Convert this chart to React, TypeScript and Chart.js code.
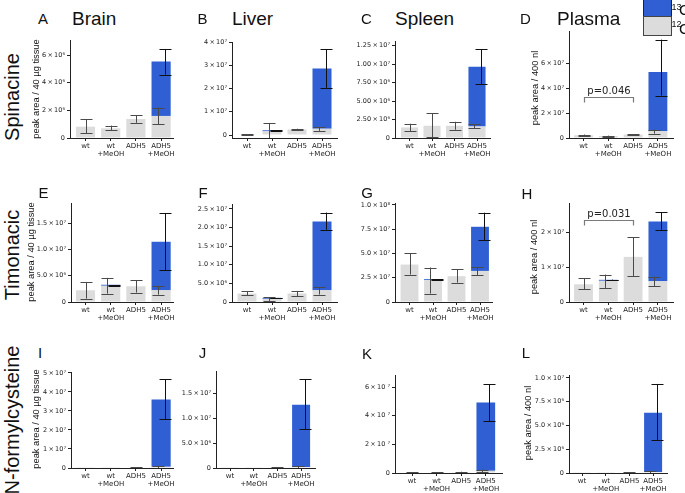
import React, { useEffect, useRef } from "react";
import { Chart, registerables } from "chart.js";
Chart.register(...registerables);

// ---------- shared categories / text ----------
const categories = [["wt"], ["wt", "+MeOH"], ["ADH5"], ["ADH5", "+MeOH"]];
const colTitles = ["Brain", "Liver", "Spleen", "Plasma"];
const rowTitles = ["Spinacine", "Timonacic", "N-formylcysteine"];
const panelLetters = ["A", "B", "C", "D", "E", "F", "G", "H", "I", "J", "K", "L"];
const yTitleTissue = "peak area / 40 µg tissue";
const yTitlePlasma = "peak area / 400 nl";
const legendIsotopes = ["13", "12"];

type Rng = [number, number] | null;

// ---------- Spinacine ----------
const A_12C = [0.82e6, 0.7e6, 1.38e6, 1.6e6];
const A_12C_err: Rng[] = [[0.35e6, 1.35e6], [0.55e6, 0.9e6], [1.1e6, 1.65e6], [1.0e6, 2.2e6]];
const A_13C = [0, 0, 0, 3.95e6];
const A_13C_err: Rng[] = [null, null, null, [4.6e6, 6.45e6]];
const A_ticks = [0, 2e6, 4e6, 6e6];
const A_tickLabels = ["0", "2 × 10⁶", "4 × 10⁶", "6 × 10⁶"];

const B_12C = [0.3e6, 1.6e6, 2.4e6, 2.7e6];
const B_12C_err: Rng[] = [[0.2e6, 0.4e6], [-1.9e6, 5.2e6], [2.1e6, 2.7e6], [1.8e6, 3.4e6]];
const B_13C = [0, 0.3e6, 0, 2.59e7];
const B_13C_err: Rng[] = [null, [1.8e6, 2.0e6], null, [2.03e7, 3.68e7]];
const B_ticks = [0, 1e7, 2e7, 3e7, 4e7];
const B_tickLabels = ["0", "1 × 10⁷", "2 × 10⁷", "3 × 10⁷", "4 × 10⁷"];

const C_12C = [1.43e6, 1.66e6, 1.66e6, 1.57e6];
const C_12C_err: Rng[] = [[0.9e6, 1.93e6], [0.13e6, 3.38e6], [1.12e6, 2.2e6], [1.35e6, 1.9e6]];
const C_13C = [0, 0, 0, 8.1e6];
const C_13C_err: Rng[] = [null, null, null, [7.3e6, 1.2e7]];
const C_ticks = [0, 2.5e6, 5e6, 7.5e6, 1e7, 1.25e7];
const C_tickLabels = ["0", "2.50 × 10⁶", "5.00 × 10⁶", "7.50 × 10⁶", "1.00 × 10⁷", "1.25 × 10⁷"];

const D_12C = [2.2e6, 1.6e6, 2.8e6, 5.4e6];
const D_12C_err: Rng[] = [[1.6e6, 2.8e6], [1.1e6, 1.9e6], [2.5e6, 3.1e6], [3.5e6, 6.7e6]];
const D_13C = [0, 0, 0, 4.74e7];
const D_13C_err: Rng[] = [null, null, null, [3.4e7, 7.87e7]];
const D_ticks = [0, 2e7, 4e7, 6e7];
const D_tickLabels = ["0", "2 × 10⁷", "4 × 10⁷", "6 × 10⁷"];
const D_pText = "p=0.046";
const D_pBracket = [0, 2, 3.26e7];

// ---------- Timonacic ----------
const E_12C = [2.24e6, 3.1e6, 3.0e6, 2.24e6];
const E_12C_err: Rng[] = [[0.65e6, 3.83e6], [1.6e6, 4.6e6], [1.8e6, 4.2e6], [1.4e6, 3.07e6]];
const E_13C = [0, 0.05e6, 0, 9.26e6];
const E_13C_err: Rng[] = [null, [3.1e6, 3.17e6], null, [6.07e6, 1.7e7]];
const E_ticks = [0, 5e6, 1e7, 1.5e7];
const E_tickLabels = ["0", "5.0 × 10⁶", "1.0 × 10⁷", "1.5 × 10⁷"];

const F_12C = [2.27e6, 0.85e6, 2.3e6, 3.16e6];
const F_12C_err: Rng[] = [[1.8e6, 2.9e6], [0.3e6, 1.3e6], [1.6e6, 2.97e6], [2.0e6, 4.05e6]];
const F_13C = [0, 0.2e6, 0, 1.844e7];
const F_13C_err: Rng[] = [null, [0.95e6, 1.05e6], null, [1.94e7, 2.4e7]];
const F_ticks = [0, 5e6, 1e7, 1.5e7, 2e7, 2.5e7];
const F_tickLabels = ["0", "5.0 × 10⁶", "1.0 × 10⁷", "1.5 × 10⁷", "2.0 × 10⁷", "2.5 × 10⁷"];

const G_12C = [3.86e7, 2.25e7, 2.66e7, 3.2e7];
const G_12C_err: Rng[] = [[2.83e7, 5.0e7], [0.87e7, 3.55e7], [2.0e7, 3.38e7], [2.76e7, 3.62e7]];
const G_13C = [0, 0.08e7, 0, 4.55e7];
const G_13C_err: Rng[] = [null, [2.29e7, 2.36e7], null, [6.37e7, 9.2e7]];
const G_ticks = [0, 2.5e7, 5e7, 7.5e7, 1e8];
const G_tickLabels = ["0", "2.5 × 10⁷", "5.0 × 10⁷", "7.5 × 10⁷", "1.0 × 10⁸"];

const H_12C = [5.1e6, 6.1e6, 1.3e7, 6.0e6];
const H_12C_err: Rng[] = [[3.7e6, 6.8e6], [4.06e6, 7.9e6], [7.5e6, 1.86e7], [4.55e6, 7.25e6]];
const H_13C = [0, 0.25e6, 0, 1.72e7];
const H_13C_err: Rng[] = [null, [6.25e6, 6.45e6], null, [2.08e7, 2.58e7]];
const H_ticks = [0, 1e7, 2e7];
const H_tickLabels = ["0", "1 × 10⁷", "2 × 10⁷"];
const H_pText = "p=0.031";
const H_pBracket = [0, 2, 2.37e7];

// ---------- N-formylcysteine ----------
const I_12C = [0.1e6, 0.1e6, 0.3e6, 0.6e6];
const I_12C_err: Rng[] = [null, null, [0.1e6, 0.5e6], [0, 1.2e6]];
const I_13C = [0, 0, 0, 3.54e7];
const I_13C_err: Rng[] = [null, null, null, [2.58e7, 4.68e7]];
const I_ticks = [0, 1e7, 2e7, 3e7, 4e7, 5e7];
const I_tickLabels = ["0", "1 × 10⁷", "2 × 10⁷", "3 × 10⁷", "4 × 10⁷", "5 × 10⁷"];

const J_12C = [0.05e6, 0.05e6, 0.15e6, 0.2e6];
const J_12C_err: Rng[] = [null, null, [0.1e6, 0.2e6], [0, 0.4e6]];
const J_13C = [0, 0, 0, 1.25e7];
const J_13C_err: Rng[] = [null, null, null, [0.78e7, 1.78e7]];
const J_ticks = [0, 5e6, 1e7, 1.5e7];
const J_tickLabels = ["0", "5.0 × 10⁶", "1.0 × 10⁷", "1.5 × 10⁷"];

const K_12C = [0.4e6, 0.4e6, 0.6e6, 1.5e6];
const K_12C_err: Rng[] = [[0.2e6, 0.6e6], [0.2e6, 0.6e6], [0.3e6, 0.9e6], [0.5e6, 2.4e6]];
const K_13C = [0, 0, 0, 4.77e7];
const K_13C_err: Rng[] = [null, null, null, [3.64e7, 6.22e7]];
const K_ticks = [0, 2e7, 4e7, 6e7];
const K_tickLabels = ["0", "2 × 10 ⁷", "4 × 10 ⁷", "6 × 10 ⁷"];

const L_12C = [0.02e6, 0.02e6, 0.05e6, 0.1e6];
const L_12C_err: Rng[] = [null, null, [0.03e6, 0.07e6], [0, 0.16e6]];
const L_13C = [0, 0, 0, 6.23e6];
const L_13C_err: Rng[] = [null, null, null, [3.45e6, 9.36e6]];
const L_ticks = [0, 2.5e6, 5e6, 7.5e6, 1e7];
const L_tickLabels = ["0", "2.5 × 10⁶", "5.0 × 10⁶", "7.5 × 10⁶", "1.0 × 10⁷"];

// ---------- styling ----------
const GRAY = "#dcdcdc";
const BLUE = "#2f5fd2";
const ERR12 = "#4a4a4a";
const ERR13 = "#111111";
const AXIS = "#222222";
const TICK_FONT = '"DejaVu Sans", sans-serif';
const TEXT_FONT = '"Liberation Sans", Arial, sans-serif';
const YW = 46, PT = 10, PR = 8, XH = 24;

interface PanelDef {
  c12: number[]; e12: Rng[]; c13: number[]; e13: Rng[];
  ticks: number[]; tickLabels: string[];
  l: number; r: number; t: number; b: number; c0: number; sp: number;
  ymin: number; ymax: number;
  pText?: string; pBracket?: number[];
}

const panels: PanelDef[] = [
  { c12: A_12C, e12: A_12C_err, c13: A_13C, e13: A_13C_err, ticks: A_ticks, tickLabels: A_tickLabels, l: 70, r: 173, t: 40, b: 138, c0: 85.5, sp: 25.2, ymin: 0, ymax: 7.1e6 },
  { c12: B_12C, e12: B_12C_err, c13: B_13C, e13: B_13C_err, ticks: B_ticks, tickLabels: B_tickLabels, l: 232, r: 337, t: 42, b: 138, c0: 247, sp: 25, ymin: -1.29e6, ymax: 4.0e7 },
  { c12: C_12C, e12: C_12C_err, c13: C_13C, e13: C_13C_err, ticks: C_ticks, tickLabels: C_tickLabels, l: 395, r: 490, t: 41, b: 138, c0: 409.5, sp: 22.5, ymin: 0, ymax: 1.315e7 },
  { c12: D_12C, e12: D_12C_err, c13: D_13C, e13: D_13C_err, ticks: D_ticks, tickLabels: D_tickLabels, l: 569, r: 673, t: 31, b: 138, c0: 583.5, sp: 24.8, ymin: 0, ymax: 8.56e7, pText: D_pText, pBracket: D_pBracket },
  { c12: E_12C, e12: E_12C_err, c13: E_13C, e13: E_13C_err, ticks: E_ticks, tickLabels: E_tickLabels, l: 71, r: 173, t: 203, b: 302, c0: 85.5, sp: 25.2, ymin: 0, ymax: 1.89e7 },
  { c12: F_12C, e12: F_12C_err, c13: F_13C, e13: F_13C_err, ticks: F_ticks, tickLabels: F_tickLabels, l: 232, r: 337, t: 204, b: 302, c0: 247, sp: 25, ymin: 0, ymax: 2.63e7 },
  { c12: G_12C, e12: G_12C_err, c13: G_13C, e13: G_13C_err, ticks: G_ticks, tickLabels: G_tickLabels, l: 395, r: 492, t: 203, b: 302, c0: 409.5, sp: 23.5, ymin: 0, ymax: 1.02e8 },
  { c12: H_12C, e12: H_12C_err, c13: H_13C, e13: H_13C_err, ticks: H_ticks, tickLabels: H_tickLabels, l: 569, r: 673, t: 203, b: 302, c0: 583.5, sp: 24.8, ymin: 0, ymax: 2.85e7, pText: H_pText, pBracket: H_pBracket },
  { c12: I_12C, e12: I_12C_err, c13: I_13C, e13: I_13C_err, ticks: I_ticks, tickLabels: I_tickLabels, l: 71, r: 173, t: 372, b: 468, c0: 85.5, sp: 25.2, ymin: 0, ymax: 5.05e7 },
  { c12: J_12C, e12: J_12C_err, c13: J_13C, e13: J_13C_err, ticks: J_ticks, tickLabels: J_tickLabels, l: 216, r: 315, t: 371, b: 468, c0: 230, sp: 23.7, ymin: 0, ymax: 1.95e7 },
  { c12: K_12C, e12: K_12C_err, c13: K_13C, e13: K_13C_err, ticks: K_ticks, tickLabels: K_tickLabels, l: 395, r: 502, t: 375, b: 473, c0: 412, sp: 24.6, ymin: 0, ymax: 6.85e7 },
  { c12: L_12C, e12: L_12C_err, c13: L_13C, e13: L_13C_err, ticks: L_ticks, tickLabels: L_tickLabels, l: 569, r: 667, t: 375, b: 473, c0: 582, sp: 23.7, ymin: 0, ymax: 1.03e7 },
];

// tighten the spaces around "×" like mathtext does
const tight = (s: string) => s.replace(/ × /g, "\u2009×\u2009");

function PanelChart({ p }: { p: PanelDef }) {
  const ref = useRef<HTMLCanvasElement | null>(null);
  const W = YW + (p.r - p.l) + PR;
  const H = PT + (p.b - p.t) + XH;
  useEffect(() => {
    const xmin = (p.l - p.c0) / p.sp;
    const xmax = (p.r - p.c0) / p.sp;
    const overlay = {
      id: "errbars",
      afterDatasetsDraw(chart: any) {
        const { ctx, chartArea, scales } = chart;
        const xs = scales.x, ys = scales.y;
        ctx.save();
        ctx.beginPath();
        ctx.rect(chartArea.left, chartArea.top - 10, chartArea.right - chartArea.left, chartArea.bottom - chartArea.top + 10);
        ctx.clip();
        const drawErr = (cx: number, rng: [number, number], color: string) => {
          const y1 = ys.getPixelForValue(rng[0]);
          const y2 = ys.getPixelForValue(rng[1]);
          ctx.strokeStyle = color;
          ctx.lineWidth = 1;
          ctx.beginPath();
          const x = Math.round(cx) + 0.5;
          ctx.moveTo(x, y1); ctx.lineTo(x, y2);
          ctx.moveTo(x - 6, Math.round(y1) + 0.5); ctx.lineTo(x + 6, Math.round(y1) + 0.5);
          ctx.moveTo(x - 6, Math.round(y2) + 0.5); ctx.lineTo(x + 6, Math.round(y2) + 0.5);
          ctx.stroke();
        };
        for (let i = 0; i < categories.length; i++) {
          const cx = xs.getPixelForValue(i);
          const has13 = p.c13[i] > 0;
          const e12 = p.e12[i];
          const e13 = p.e13[i];
          if (e12) drawErr(cx + (has13 ? -3.5 : 0), e12, ERR12);
          if (e13) drawErr(cx + (has13 ? 3.5 : 0), e13, ERR13);
        }
        ctx.restore();
        if (p.pBracket && p.pText) {
          const [a, b, v] = p.pBracket;
          const x1 = Math.round(xs.getPixelForValue(a)) + 0.5;
          const x2 = Math.round(xs.getPixelForValue(b)) + 0.5;
          const y = Math.round(ys.getPixelForValue(v)) + 0.5;
          ctx.save();
          ctx.strokeStyle = "#7a7a7a";
          ctx.lineWidth = 1.2;
          ctx.beginPath();
          ctx.moveTo(x1, y + 5); ctx.lineTo(x1, y); ctx.lineTo(x2, y); ctx.lineTo(x2, y + 5);
          ctx.stroke();
          ctx.fillStyle = "#222";
          ctx.font = `10px ${TICK_FONT}`;
          ctx.textAlign = "center";
          ctx.textBaseline = "alphabetic";
          ctx.fillText(p.pText, (x1 + x2) / 2, y - 3.5);
          ctx.restore();
        }
      },
    };
    const chart = new Chart(ref.current as HTMLCanvasElement, {
      type: "bar",
      data: {
        datasets: [
          {
            label: "12C",
            data: p.c12.map((v, i) => ({ x: i, y: v })),
            backgroundColor: GRAY,
            borderWidth: 0,
            stack: "s",
            barPercentage: 0.76,
            categoryPercentage: 1,
          },
          {
            label: "13C",
            data: p.c13.map((v, i) => ({ x: i, y: v > 0 ? v : null })),
            backgroundColor: BLUE,
            borderWidth: 0,
            stack: "s",
            minBarLength: 1,
            barPercentage: 0.76,
            categoryPercentage: 1,
          },
        ] as any,
      },
      options: {
        responsive: false,
        animation: false,
        layout: { padding: { top: PT, right: PR, left: 0, bottom: 0 } },
        plugins: { legend: { display: false }, tooltip: { enabled: false } },
        scales: {
          x: {
            type: "linear",
            min: xmin,
            max: xmax,
            offset: false,
            afterBuildTicks: (s: any) => { s.ticks = categories.map((_, i) => ({ value: i })); },
            afterFit: (s: any) => { s.height = XH; },
            ticks: {
              autoSkip: false, maxRotation: 0, minRotation: 0, padding: 1, color: AXIS,
              font: { family: TICK_FONT, size: 7, lineHeight: 1.15 },
              callback: (v: any) => categories[Math.round(Number(v))],
            },
            grid: { display: true, offset: false, drawOnChartArea: false, drawTicks: true, tickLength: 3, color: AXIS, lineWidth: 1 },
            border: { display: true, color: AXIS, width: 1 },
          },
          y: {
            type: "linear",
            min: p.ymin,
            max: p.ymax,
            stacked: true,
            afterBuildTicks: (s: any) => { s.ticks = p.ticks.map((v) => ({ value: v })); },
            afterFit: (s: any) => { s.width = YW; },
            ticks: {
              padding: 2, color: AXIS,
              font: { family: TICK_FONT, size: 6.5 },
              callback: (_v: any, i: number) => tight(p.tickLabels[i]),
            },
            grid: { display: true, drawOnChartArea: false, drawTicks: true, tickLength: 3, color: AXIS, lineWidth: 1 },
            border: { display: true, color: AXIS, width: 1 },
          },
        },
      } as any,
      plugins: [overlay],
    });
    return () => chart.destroy();
  }, []);
  return (
    <canvas
      ref={ref}
      width={W}
      height={H}
      style={{ position: "absolute", left: p.l - YW, top: p.t - PT, width: W, height: H }}
    />
  );
}

const colTitlePos = [[72, 17.5], [232, 17.5], [395, 17.5], [557, 17.5]];
const rowTitlePos = [[12, 96.5], [12, 254.5], [12, 420]];
const letterPos = [
  [43, 17.5], [202.5, 18], [366.5, 17.5], [525.5, 17.5],
  [43.5, 192], [203, 192], [367, 192], [527, 193],
  [40, 352], [202.5, 352], [367, 352.5], [526, 352],
];
const yTitles: [string, number, number][] = [
  [yTitleTissue, 37, 88.5], [yTitlePlasma, 535.5, 87.5],
  [yTitleTissue, 32, 252], [yTitlePlasma, 534.5, 257],
  [yTitleTissue, 37, 419], [yTitlePlasma, 529, 423],
];
const legendRowY = [[7, 9.2], [23.7, 27.5]];

const textStyle = (x: number, y: number, size: number, transform: string) => ({
  position: "absolute" as const, left: x, top: y, transform,
  font: `${size}px ${TEXT_FONT}`, lineHeight: 1, whiteSpace: "nowrap" as const, color: "#111",
});

export default function App() {
  return (
    <div
      style={{
        position: "absolute", left: 0, top: 0, width: 685, height: 493,
        overflow: "hidden", background: "#fff",
      }}
    >
      {panels.map((p, i) => <PanelChart key={i} p={p} />)}
      {colTitles.map((t, i) => (
        <div key={"c" + i} style={textStyle(colTitlePos[i][0], colTitlePos[i][1], 19, "translateY(-50%)")}>{t}</div>
      ))}
      {rowTitles.map((t, i) => (
        <div key={"r" + i} style={textStyle(rowTitlePos[i][0], rowTitlePos[i][1], 20, "translate(-50%, -50%) rotate(-90deg)")}>{t}</div>
      ))}
      {panelLetters.map((t, i) => (
        <div key={"l" + i} style={textStyle(letterPos[i][0], letterPos[i][1], 15, "translate(-50%, -50%)")}>{t}</div>
      ))}
      {yTitles.map(([t, x, y], i) => (
        <div key={"y" + i} style={textStyle(x, y, 9.3, "translate(-50%, -50%) rotate(-90deg)")}>{t}</div>
      ))}
      {/* legend */}
      <div style={{ position: "absolute", left: 643, top: -2, width: 27, height: 17, background: BLUE, border: "1px solid #222" }} />
      <div style={{ position: "absolute", left: 643, top: 16, width: 27, height: 18, background: GRAY, border: "1px solid #444" }} />
      {legendIsotopes.map((iso, i) => (
        <React.Fragment key={"lg" + i}>
          <div style={textStyle(671.5, legendRowY[i][0], 9, "translateY(-50%)")}>{iso}</div>
          <div style={textStyle(679, legendRowY[i][1], 15, "translateY(-50%)")}>C</div>
        </React.Fragment>
      ))}
    </div>
  );
}
